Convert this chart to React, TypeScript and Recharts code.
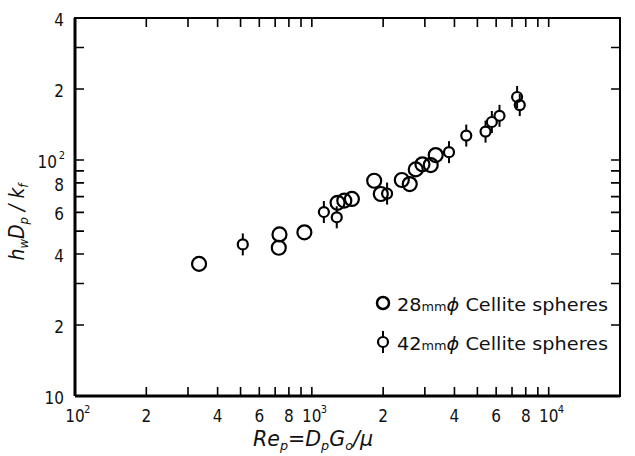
import React from "react"
import { ScatterChart, Scatter, XAxis, YAxis } from "recharts"

// Re_p values and h_w D_p / k_f
const re28 = [334, 725, 730, 930, 1284, 1371, 1476, 1833, 1955, 2398, 2590, 2746, 2930, 3176, 3334]
const nu28 = [36.3, 42.5, 48.4, 49.4, 65.9, 67.3, 68.4, 81.7, 71.8, 82.3, 79.1, 91.3, 95.9, 95.2, 105]

const re42 = [511, 1124, 1274, 2078, 3793, 4487, 5412, 5754, 6198, 7355, 7548]
const nu42 = [43.9, 60.2, 57.2, 72.1, 108, 127, 132, 145, 154, 185, 171]

const xDomain = [100, 20000]
const yDomain = [10, 400]

const xTicks = [100, 200, 300, 400, 500, 600, 700, 800, 900, 1000, 2000, 3000, 4000, 5000, 6000, 7000, 8000, 9000, 10000]
const xLabelValues = [100, 200, 400, 600, 800, 1000, 2000, 4000, 6000, 8000, 10000]
const xLabels = ["10^2", "2", "4", "6", "8", "10^3", "2", "4", "6", "8", "10^4"]

const yTicks = [10, 20, 30, 40, 50, 60, 70, 80, 90, 100, 200, 300, 400]
const yLabelValues = [10, 20, 40, 60, 80, 100, 200, 400]
const yLabels = ["10", "2", "4", "6", "8", "10^2", "2", "4"]

const legendNames = ["28", "42"]

const data28 = re28.map((re, i) => ({ re, nu: nu28[i] }))
const data42 = re42.map((re, i) => ({ re, nu: nu42[i] }))

// chart layout
const W = 635
const H = 456
const M = { top: 18, right: 15, bottom: 0, left: 0 }
const Y_AXIS_W = 75
const X_AXIS_H = 60
const PLOT_W = W - M.left - M.right - Y_AXIS_W
const PLOT_H = H - M.top - M.bottom - X_AXIS_H

const FONT = "'Liberation Sans Narrow', 'DejaVu Sans Condensed', 'Liberation Sans', sans-serif"
const TICK_LEN = 9

function labelFor(values: number[], labels: string[], v: number) {
  const i = values.indexOf(v)
  return i < 0 ? null : labels[i]
}

// bottom tick + matching inward tick on the top edge
function BottomTick(props: any) {
  const { x, y, payload } = props
  const lab = labelFor(xLabelValues, xLabels, payload.value)
  let text = null
  if (lab) {
    const [base, sup] = lab.split("^")
    text = (
      <g fontFamily={FONT} fill="#111">
        <text x={x} y={y + 26} textAnchor="middle" fontSize={17}>{base}</text>
        {sup && <text x={x + 9} y={y + 17} fontSize={11}>{sup}</text>}
      </g>
    )
  }
  const top = y - PLOT_H
  return (
    <g>
      <path d={`M${x},${y}V${y - TICK_LEN}M${x},${top}V${top + TICK_LEN}`} stroke="#000" strokeWidth={1.6} fill="none" />
      {text}
    </g>
  )
}

// left tick + matching inward tick on the right edge
function LeftTick(props: any) {
  const { x, y, payload } = props
  const lab = labelFor(yLabelValues, yLabels, payload.value)
  let text = null
  if (lab) {
    const [base, sup] = lab.split("^")
    text = sup ? (
      <g fontFamily={FONT} fill="#111">
        <text x={x - 18} y={y + 8} textAnchor="end" fontSize={17}>{base}</text>
        <text x={x - 10} y={y - 1} textAnchor="end" fontSize={11}>{sup}</text>
      </g>
    ) : (
      <text x={x - 11} y={y + 8} textAnchor="end" fontSize={17} fontFamily={FONT} fill="#111">{base}</text>
    )
  }
  const right = x + PLOT_W
  return (
    <g>
      <path d={`M${x},${y}H${x + TICK_LEN}M${right},${y}H${right - TICK_LEN}`} stroke="#000" strokeWidth={1.6} fill="none" />
      {text}
    </g>
  )
}

function Ring(props: any) {
  const { cx, cy } = props
  return <circle cx={cx} cy={cy} r={7} fill="none" stroke="#000" strokeWidth={2.2} />
}

function BarRing(props: any) {
  const { cx, cy } = props
  return (
    <g stroke="#000" fill="none">
      <line x1={cx} x2={cx} y1={cy - 11} y2={cy - 5} strokeWidth={2} />
      <line x1={cx} x2={cx} y1={cy + 5} y2={cy + 11} strokeWidth={2} />
      <circle cx={cx} cy={cy} r={5} strokeWidth={2.2} />
    </g>
  )
}

function LegendRow({ name, y, bar }: { name: string; y: number; bar: boolean }) {
  return (
    <g fontFamily={FONT} fill="#111">
      {bar ? (
        <BarRing cx={383} cy={y - 8} />
      ) : (
        <circle cx={383} cy={y - 8} r={6} fill="none" stroke="#000" strokeWidth={2.5} />
      )}
      <text x={397} y={y} fontSize={18} textLength={211} lengthAdjust="spacingAndGlyphs">
        {name}
        <tspan fontSize={12}>mm</tspan>
        <tspan fontStyle="italic">ϕ </tspan>
        <tspan>Cellite spheres</tspan>
      </text>
    </g>
  )
}

export default function App() {
  const plotLeft = M.left + Y_AXIS_W
  return (
    <div style={{ position: "absolute", left: 0, top: 0, width: W, height: H, background: "#fff" }}>
      <ScatterChart width={W} height={H} margin={M}>
        <XAxis
          type="number"
          dataKey="re"
          scale="log"
          domain={xDomain}
          allowDataOverflow
          ticks={xTicks}
          interval={0}
          tickSize={0}
          tickMargin={0}
          tickLine={false}
          tick={<BottomTick />}
          axisLine={{ stroke: "#000", strokeWidth: 3 }}
          height={X_AXIS_H}
        />
        <YAxis
          type="number"
          dataKey="nu"
          scale="log"
          domain={yDomain}
          allowDataOverflow
          ticks={yTicks}
          interval={0}
          tickSize={0}
          tickMargin={0}
          tickLine={false}
          tick={<LeftTick />}
          axisLine={{ stroke: "#000", strokeWidth: 3 }}
          width={Y_AXIS_W}
        />
        <Scatter data={data28} shape={<Ring />} isAnimationActive={false} />
        <Scatter data={data42} shape={<BarRing />} isAnimationActive={false} />
      </ScatterChart>
      {/* frame around the plot area as an HTML box */}
      <div
        style={{
          position: "absolute",
          left: plotLeft - 1,
          top: M.top - 1,
          width: PLOT_W,
          height: PLOT_H,
          borderTop: "2px solid #000",
          borderRight: "2px solid #000",
          boxSizing: "content-box",
          pointerEvents: "none",
        }}
      />
      <svg width={W} height={H} style={{ position: "absolute", left: 0, top: 0, pointerEvents: "none" }}>
        <LegendRow name={legendNames[0]} y={311} bar={false} />
        <LegendRow name={legendNames[1]} y={350} bar={true} />
        <text x={253} y={446} fontFamily={FONT} fontSize={21} fontStyle="italic" fill="#111" textLength={120} lengthAdjust="spacingAndGlyphs">
          Re<tspan fontSize={13} dy={4}>p</tspan>
          <tspan dy={-4}>=D</tspan>
          <tspan fontSize={13} dy={4}>p</tspan>
          <tspan dy={-4}>G</tspan>
          <tspan fontSize={13} dy={4}>o</tspan>
          <tspan dy={-4}>/μ</tspan>
        </text>
        <text
          transform="translate(24,222) rotate(-90)"
          textAnchor="middle"
          fontFamily={FONT}
          fontSize={21}
          fontStyle="italic"
          fill="#111"
        >
          h<tspan fontSize={13} dy={4}>w</tspan>
          <tspan dy={-4}>D</tspan>
          <tspan fontSize={13} dy={4}>p</tspan>
          <tspan dy={-4}> / k</tspan>
          <tspan fontSize={13} dy={4}>f</tspan>
        </text>
      </svg>
    </div>
  )
}
